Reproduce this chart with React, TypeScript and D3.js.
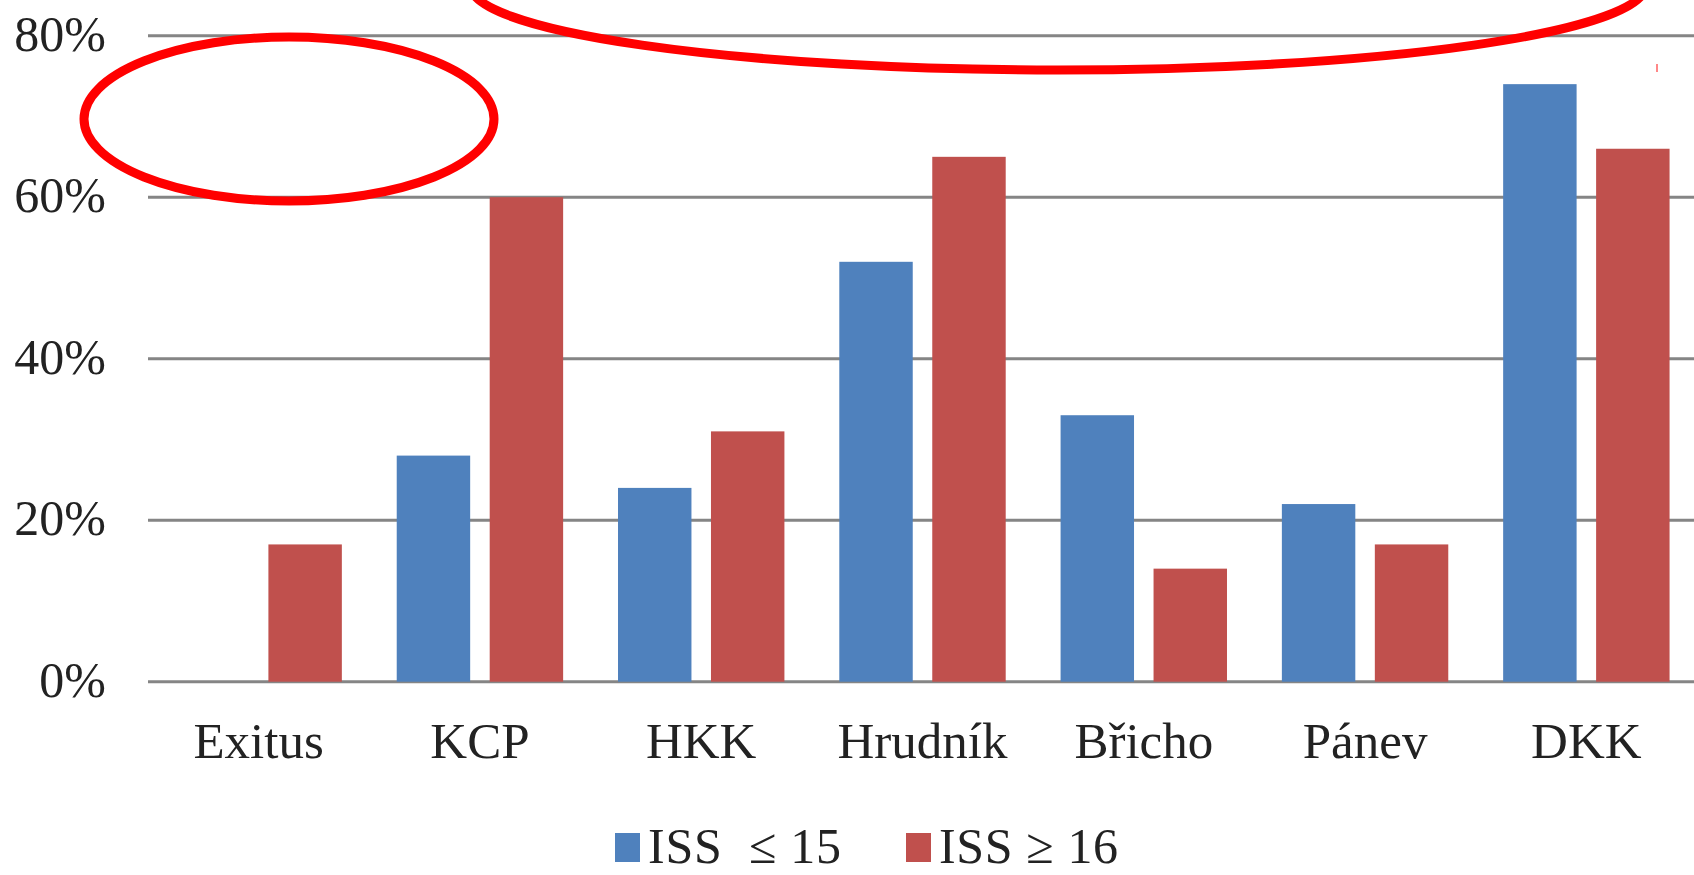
import { useEffect, useRef } from 'react';
import * as d3 from 'd3';

const categories = ['Exitus', 'KCP', 'HKK', 'Hrudník', 'Břicho', 'Pánev', 'DKK'];
const seriesNames = ['ISS  ≤ 15', 'ISS ≥ 16'];
const issLow = [0, 28, 24, 52, 33, 22, 74];
const issHigh = [17, 60, 31, 65, 14, 17, 66];
const yTicks = [0, 20, 40, 60, 80];
const colors = ['#4f81bd', '#c0504d'];

const W = 1694;
const H = 875;

const App = () => {
  const svgRef = useRef<SVGSVGElement>(null);

  useEffect(() => {
    const svg = d3.select(svgRef.current);
    svg.selectAll('*').remove();

    const left = 148;
    const right = 1697;
    const y = d3.scaleLinear().domain([0, 80]).range([681.7, 35.7]);

    const x0 = d3.scaleBand().domain(categories).range([left, right]).paddingInner(0.248).paddingOuter(0.124);
    const x1 = d3.scaleBand().domain(seriesNames).range([0, x0.bandwidth()]).paddingInner(0.21);

    const font = '"Liberation Serif", "Times New Roman", serif';

    // gridlines
    svg.append('g')
      .selectAll('line')
      .data(yTicks)
      .join('line')
      .attr('x1', left)
      .attr('x2', W)
      .attr('y1', d => y(d))
      .attr('y2', d => y(d))
      .attr('stroke', '#858585')
      .attr('stroke-width', 3);

    // y labels
    svg.append('g')
      .selectAll('text')
      .data(yTicks)
      .join('text')
      .attr('x', 106)
      .attr('y', d => y(d) + 15)
      .attr('text-anchor', 'end')
      .style('font-family', font)
      .style('font-size', '50px')
      .attr('fill', '#222')
      .text(d => `${d}%`);

    const rows = categories.map((c, i) => ({ key: c, values: [issLow[i], issHigh[i]] }));

    const groups = svg.append('g')
      .selectAll('g')
      .data(rows)
      .join('g')
      .attr('transform', d => `translate(${x0(d.key)},0)`);

    groups.selectAll('rect')
      .data(d => d.values.map((v, i) => ({ series: seriesNames[i], value: v, i })))
      .join('rect')
      .attr('x', d => x1(d.series) || 0)
      .attr('y', d => y(d.value))
      .attr('width', x1.bandwidth())
      .attr('height', d => y(0) - y(d.value))
      .attr('fill', d => colors[d.i]);

    // category labels
    svg.append('g')
      .selectAll('text')
      .data(categories)
      .join('text')
      .attr('x', d => (x0(d) || 0) + x0.bandwidth() / 2)
      .attr('y', 758)
      .attr('text-anchor', 'middle')
      .style('font-family', font)
      .style('font-size', '51px')
      .attr('fill', '#222')
      .text(d => d);

    // legend
    const legendX = [615, 906];
    const legendLen = [193, 179];
    const legend = svg.append('g')
      .selectAll('g')
      .data(seriesNames)
      .join('g')
      .attr('transform', (d, i) => `translate(${legendX[i]},0)`);

    legend.append('rect')
      .attr('x', 0)
      .attr('y', 833)
      .attr('width', 25)
      .attr('height', 29)
      .attr('fill', (d, i) => colors[i]);

    legend.append('text')
      .attr('x', 33)
      .attr('y', 863)
      .attr('textLength', (d, i) => legendLen[i])
      .attr('lengthAdjust', 'spacing')
      .style('font-family', font)
      .style('font-size', '50px')
      .style('white-space', 'pre')
      .attr('fill', '#222')
      .text(d => d);

    // red hand-drawn marks on the picture
    const marks = svg.append('g').attr('fill', 'none').attr('stroke', '#ff0000').attr('stroke-width', 9);
    marks.append('ellipse').attr('cx', 289).attr('cy', 119).attr('rx', 205).attr('ry', 82);
    marks.append('ellipse').attr('cx', 1058).attr('cy', -15).attr('rx', 588).attr('ry', 85);
    svg.append('line')
      .attr('x1', 1657).attr('x2', 1657).attr('y1', 64).attr('y2', 72)
      .attr('stroke', '#ff6060').attr('stroke-width', 1.5);
  }, []);

  return (
    <svg
      ref={svgRef}
      width={W}
      height={H}
      style={{ position: 'absolute', left: 0, top: 0, background: '#fff', display: 'block' }}
    />
  );
};

export default App;
